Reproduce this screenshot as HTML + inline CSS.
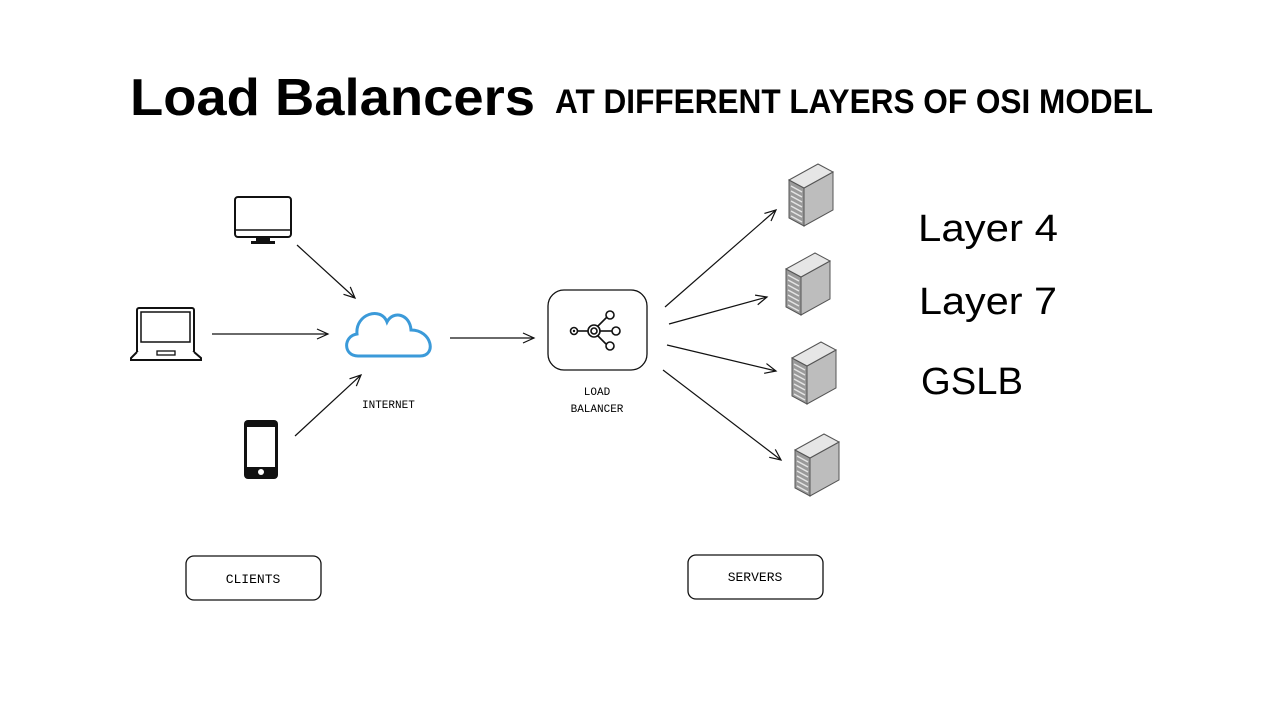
<!DOCTYPE html>
<html><head><meta charset="utf-8"><style>
html,body{margin:0;padding:0;background:#fff;}
svg{display:block}
</style></head><body>
<svg width="1280" height="720" viewBox="0 0 1280 720" xmlns="http://www.w3.org/2000/svg">
<defs>
<marker id="a" markerWidth="14" markerHeight="12" refX="12" refY="6" orient="auto" markerUnits="userSpaceOnUse">
<path d="M1,1 L12,6 L1,11" fill="none" stroke="#111" stroke-width="1.2"/>
</marker>
<g id="srv">
<polygon points="0,16 15,24 15,62 0,54" fill="#9a9a9a" stroke="#555" stroke-width="1"/>
<g stroke="#e4e4e4" stroke-width="1.5">
<line x1="2" y1="22" x2="13" y2="28"/><line x1="2" y1="27" x2="13" y2="33"/><line x1="2" y1="32" x2="13" y2="38"/><line x1="2" y1="37" x2="13" y2="43"/><line x1="2" y1="42" x2="13" y2="48"/><line x1="2" y1="47" x2="13" y2="53"/><line x1="2" y1="52" x2="13" y2="58"/>
</g>
<polygon points="15,24 44,8 44,46 15,62" fill="#bdbdbd" stroke="#555" stroke-width="1"/>
<polygon points="0,16 29,0 44,8 15,24" fill="#e6e6e6" stroke="#555" stroke-width="1"/>
</g>
</defs>

<text x="130" y="115" font-family="Liberation Sans, sans-serif" font-weight="bold" font-size="52" textLength="405" lengthAdjust="spacingAndGlyphs">Load Balancers</text>
<text x="555" y="113" font-family="Liberation Sans, sans-serif" font-weight="bold" font-size="34" textLength="598" lengthAdjust="spacingAndGlyphs">AT DIFFERENT LAYERS OF OSI MODEL</text>

<!-- monitor -->
<rect x="235" y="197" width="56" height="40" rx="3" fill="#fff" stroke="#111" stroke-width="2"/>
<line x1="235" y1="230" x2="291" y2="230" stroke="#111" stroke-width="1.5"/>
<rect x="256" y="237" width="14" height="4" fill="#111"/>
<rect x="251" y="241" width="24" height="3" fill="#111"/>
<!-- laptop -->
<rect x="137" y="308" width="57" height="45" rx="2" fill="#fff" stroke="#111" stroke-width="2"/>
<rect x="141" y="312" width="49" height="30" fill="none" stroke="#111" stroke-width="1.5"/>
<path d="M137,352 L131,358 L131,360 L201,360 L201,358 L194,352" fill="#fff" stroke="#111" stroke-width="2"/>
<rect x="157" y="351" width="18" height="4" fill="none" stroke="#111" stroke-width="1.3"/>
<!-- phone -->
<rect x="244" y="420" width="34" height="59" rx="4" fill="#111"/>
<rect x="247" y="427" width="28" height="40" fill="#fff"/>
<circle cx="261" cy="472" r="3" fill="#fff"/>
<!-- cloud -->
<path d="M358,356 C343,356 343,336 357,334 C355,314 381,306 387,322 C393,310 410,314 411,330 C432,330 437,356 420,356 Z" fill="#fff" stroke="#3b9ad9" stroke-width="3"/>
<text x="362" y="408" font-family="Liberation Mono, monospace" font-size="11">INTERNET</text>

<!-- arrows -->
<g stroke="#111" stroke-width="1.2" fill="none" marker-end="url(#a)">
<line x1="297" y1="245" x2="355" y2="298"/>
<line x1="212" y1="334" x2="328" y2="334"/>
<line x1="295" y1="436" x2="361" y2="375"/>
<line x1="450" y1="338" x2="534" y2="338"/>
<line x1="665" y1="307" x2="776" y2="210"/>
<line x1="669" y1="324" x2="767" y2="297"/>
<line x1="667" y1="345" x2="776" y2="371"/>
<line x1="663" y1="370" x2="781" y2="460"/>
</g>

<!-- LB -->
<rect x="548" y="290" width="99" height="80" rx="16" fill="#fff" stroke="#111" stroke-width="1.3"/>
<g stroke="#111" stroke-width="1.6" fill="#fff">
<line x1="578" y1="331" x2="588" y2="331"/>
<line x1="600" y1="331" x2="615" y2="331"/>
<line x1="598" y1="326" x2="608" y2="316"/>
<line x1="598" y1="336" x2="608" y2="346"/>
<circle cx="574" cy="331" r="3.5"/>
<circle cx="594" cy="331" r="6"/>
<circle cx="594" cy="331" r="3"/>
<circle cx="610" cy="315" r="4"/>
<circle cx="616" cy="331" r="4"/>
<circle cx="610" cy="346" r="4"/>
</g>
<circle cx="574" cy="331" r="1.2" fill="#111"/>
<text x="597" y="395" text-anchor="middle" font-family="Liberation Mono, monospace" font-size="11">LOAD</text>
<text x="597" y="412" text-anchor="middle" font-family="Liberation Mono, monospace" font-size="11">BALANCER</text>

<!-- servers -->
<use href="#srv" x="789" y="164"/>
<use href="#srv" x="786" y="253"/>
<use href="#srv" x="792" y="342"/>
<use href="#srv" x="795" y="434"/>

<g font-family="Liberation Sans, sans-serif" font-size="38">
<text x="918" y="241" textLength="140" lengthAdjust="spacingAndGlyphs">Layer 4</text>
<text x="919" y="314" textLength="138" lengthAdjust="spacingAndGlyphs">Layer 7</text>
<text x="921" y="394" textLength="102" lengthAdjust="spacingAndGlyphs">GSLB</text>
</g>

<rect x="186" y="556" width="135" height="44" rx="8" fill="#fff" stroke="#111" stroke-width="1.3"/>
<text x="253" y="583" text-anchor="middle" font-family="Liberation Mono, monospace" font-size="13">CLIENTS</text>
<rect x="688" y="555" width="135" height="44" rx="8" fill="#fff" stroke="#111" stroke-width="1.3"/>
<text x="755" y="581" text-anchor="middle" font-family="Liberation Mono, monospace" font-size="13">SERVERS</text>
</svg>
</body></html>
